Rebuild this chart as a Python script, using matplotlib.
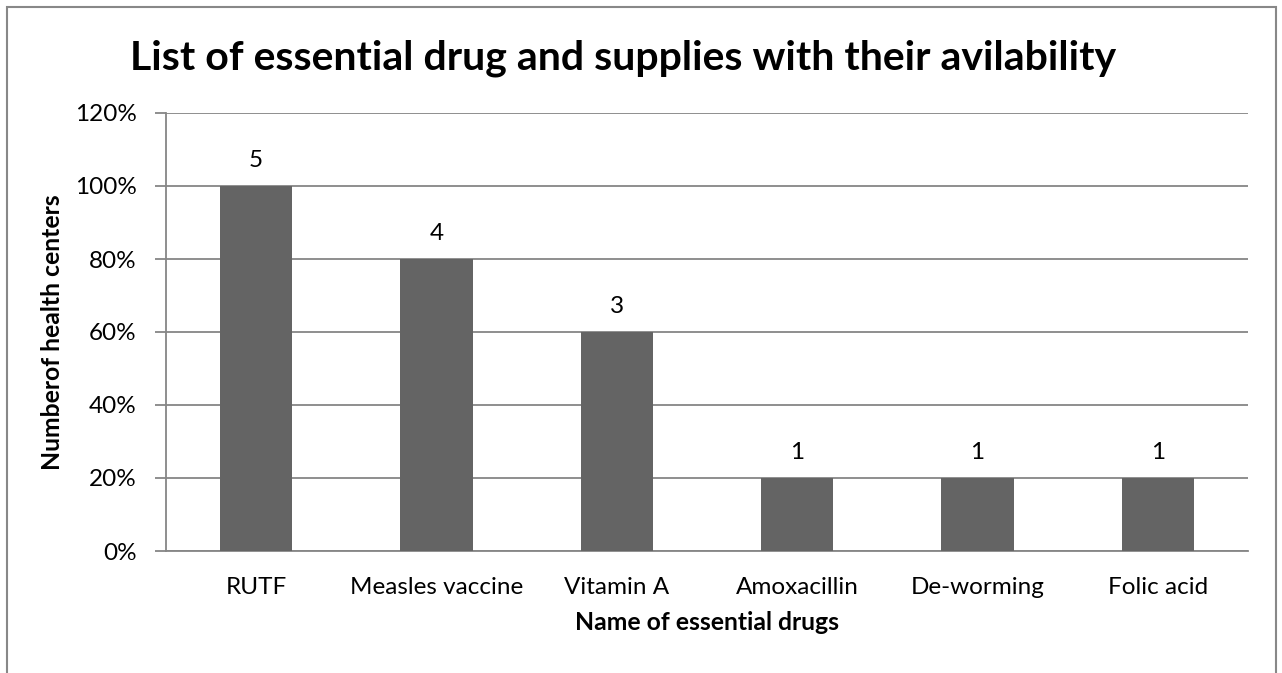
import matplotlib
matplotlib.use("Agg")
import matplotlib.pyplot as plt
from matplotlib.patches import Rectangle
from matplotlib.ticker import FuncFormatter, MultipleLocator

categories = ["RUTF", "Measles vaccine", "Vitamin A", "Amoxacillin", "De-worming", "Folic acid"]
percent = [1.0, 0.8, 0.6, 0.2, 0.2, 0.2]
counts = [5, 4, 3, 1, 1, 1]

plt.rcParams['font.family'] = ['Lato', 'DejaVu Sans']

W, H = 1282, 673
fig = plt.figure(figsize=(W / 100, H / 100), dpi=100)
fig.patch.set_facecolor('white')

left, right, top, bottom = 166, 1248, 113, 551
ax = fig.add_axes([left / W, 1 - bottom / H, (right - left) / W, (bottom - top) / H])

x = range(len(categories))
bars = ax.bar(x, percent, width=0.4, color='#646464', zorder=3)
for xi, p, c in zip(x, percent, counts):
    ax.text(xi, p + 0.04, str(c), ha='center', va='bottom', fontsize=17.5, color='black')

ax.set_xlim(-0.5, len(categories) - 0.5)
ax.set_ylim(0, 1.2)
ax.yaxis.set_major_locator(MultipleLocator(0.2))
ax.yaxis.set_major_formatter(FuncFormatter(lambda v, _: f"{round(v*100)}%"))
ax.set_xticks(list(x))
ax.set_xticklabels(categories)
ax.grid(axis='y', color='#868686', linewidth=1.3, zorder=0)
for s in ['top', 'right']:
    ax.spines[s].set_visible(False)
for s in ['left', 'bottom']:
    ax.spines[s].set_color('#868686')
    ax.spines[s].set_linewidth(1.3)
ax.tick_params(axis='y', length=8, width=1.3, color='#868686', labelsize=17.5, pad=13)
ax.tick_params(axis='x', length=0, labelsize=17.5, pad=19)

ax.set_xlabel("Name of essential drugs", fontsize=17.8, fontweight='bold', labelpad=9)
ax.set_ylabel("Numberof health centers", fontsize=17.8, fontweight='bold', labelpad=8)

fig.text(623 / W, 1 - 58 / H, "List of essential drug and supplies with their avilability",
         ha='center', va='center', fontsize=29.5, fontweight='bold')

fig.patches.append(Rectangle((7 / W, -0.1), (1276 - 7) / W, 1 - 7 / H + 0.1,
                             transform=fig.transFigure, fill=False,
                             edgecolor='#888888', linewidth=1.5))

fig.savefig("out.png", dpi=100, facecolor='white')
